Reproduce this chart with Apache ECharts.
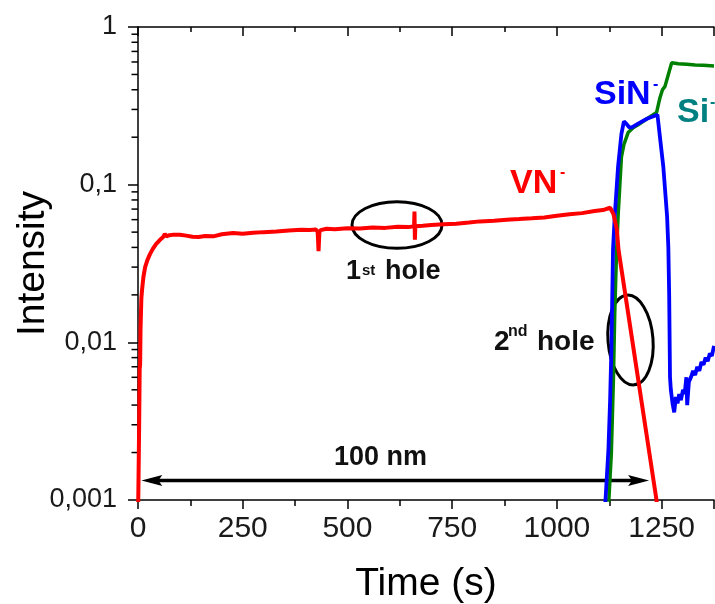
<!DOCTYPE html>
<html><head><meta charset="utf-8">
<script src="https://cdn.jsdelivr.net/npm/echarts@6/dist/echarts.min.js"></script>
<style>html,body{margin:0;padding:0;background:#fff}#c{width:715px;height:604px}</style>
</head><body><div id="c"></div>
<script>
// ---- data ----
const TIME_VN = [0,1,2,3,4,5,6,8,10,13,17,22,28,35,43,52,60,64,68,75,85,100,115,130,145,160,180,200,227,250,275,300,330,360,390,410,425,429,431,433,436,450,470,500,530,560,590,620,645,659,660,661,662,680,700,730,760,790,816,850,880,910,940,970,1000,1030,1060,1090,1110,1127,1135,1143,1147,1237,1242];
const VN = [0.0008,0.0012,0.002,0.0035,0.0068,0.0072,0.012,0.019,0.022,0.026,0.030,0.033,0.036,0.039,0.042,0.0445,0.0465,0.0487,0.047,0.0478,0.0482,0.0481,0.0475,0.0467,0.0466,0.0472,0.0470,0.0485,0.0493,0.0488,0.0495,0.0500,0.0505,0.0512,0.0518,0.0515,0.0520,0.0500,0.0378,0.0500,0.0515,0.0525,0.0522,0.0530,0.0528,0.0535,0.0532,0.0540,0.0538,0.0545,0.0676,0.0448,0.0545,0.0548,0.0555,0.0560,0.0565,0.0575,0.0585,0.0590,0.0600,0.0605,0.0612,0.0620,0.0635,0.0650,0.0660,0.0680,0.0690,0.0714,0.065,0.052,0.0387,0.00103,0.0008];

const TIME_SIN = [1112,1116,1123,1127,1130,1134,1138,1146,1154,1160,1166,1172,1178,1195,1215,1240,1246,1254,1263,1266,1268,1270,1272,1276,1280,1284,1288,1292,1296,1301,1305,1309,1311,1315,1320,1325,1330,1335,1340,1345,1350,1355,1360,1365,1370,1375];
const SIN = [0.0008,0.001,0.0021,0.0043,0.009,0.039,0.063,0.13,0.21,0.252,0.243,0.232,0.230,0.245,0.262,0.278,0.20,0.13,0.063,0.040,0.020,0.0060,0.0050,0.0041,0.0036,0.0045,0.0041,0.0047,0.0043,0.0050,0.0047,0.0060,0.0040,0.0056,0.0060,0.0066,0.0062,0.0070,0.0066,0.0075,0.0072,0.0080,0.0076,0.0085,0.0082,0.0095];

const TIME_SI = [1122,1124,1130,1135,1138,1142,1146,1154,1160,1170,1182,1194,1215,1238,1246,1252,1258,1266,1274,1290,1310,1330,1350,1375];
const SI = [0.0008,0.001,0.002,0.006,0.015,0.035,0.063,0.15,0.18,0.214,0.23,0.24,0.262,0.287,0.356,0.40,0.42,0.50,0.593,0.585,0.580,0.575,0.572,0.565];

const X_MIN = 0, X_MAX = 1375, X_STEP = 250;
const Y_MIN = 0.001, Y_MAX = 1;
const Y_MINOR = [2,3,4,5,6,7,8,9];
const ARROW = {t0: 8, t1: 1220, v: 0.00133};

const zip = (a, b) => a.map((t, i) => [t, b[i]]);
const FONT = '"Liberation Sans", Arial, sans-serif';

const chart = echarts.init(document.getElementById('c'), null, {renderer: 'canvas'});
const axisLine = {show: true, lineStyle: {color: '#000', width: 1.5}};
chart.setOption({
  animation: false,
  backgroundColor: '#fff',
  grid: {left: 138, right: 1, top: 27, bottom: 104, containLabel: false, outerBoundsMode: 'none'},
  xAxis: [{
    type: 'value', position: 'bottom', min: X_MIN, max: X_MAX, interval: X_STEP,
    axisLine, splitLine: {show: false},
    axisTick: {show: true, inside: false, length: 9, lineStyle: {color: '#000', width: 1.5}},
    minorTick: {show: true, splitNumber: 2, length: 6, lineStyle: {color: '#000', width: 1.5}},
    axisLabel: {fontSize: 30, color: '#1a1a1a', fontFamily: FONT, margin: 14, showMaxLabel: false,
      formatter: v => String(v)},
    name: 'Time (s)', nameLocation: 'middle', nameGap: 65, nameMoveOverlap: false,
    nameTextStyle: {fontSize: 39, color: '#000', fontFamily: FONT}
  }, {
    type: 'value', position: 'top', min: X_MIN, max: X_MAX, interval: X_STEP,
    axisLine, splitLine: {show: false},
    axisTick: {show: true, inside: true, length: 9, lineStyle: {color: '#000', width: 1.5}},
    minorTick: {show: true, splitNumber: 2, length: 5, lineStyle: {color: '#000', width: 1.5}},
    axisLabel: {show: false}
  }],
  yAxis: [{
    type: 'log', logBase: 10, min: Y_MIN, max: Y_MAX,
    axisLine, splitLine: {show: false},
    axisTick: {show: true, inside: false, length: 10, lineStyle: {color: '#000', width: 1.5}},
    axisLabel: {fontSize: 27, color: '#1a1a1a', fontFamily: FONT, margin: 21,
      formatter: v => String(Number(v.toPrecision(3))).replace('.', ',')},
    name: 'Intensity', nameLocation: 'middle', nameGap: 85, nameRotate: 90, nameMoveOverlap: false,
    nameTextStyle: {fontSize: 39, color: '#000', fontFamily: FONT}
  }],
  series: [
    {name: 'Si-', type: 'line', data: zip(TIME_SI, SI), showSymbol: false, clip: true,
     lineStyle: {color: '#008000', width: 3.5}, itemStyle: {color: '#008000'}},
    {name: 'SiN-', type: 'line', data: zip(TIME_SIN, SIN), showSymbol: false, clip: true,
     lineStyle: {color: '#0000ff', width: 3.8}, itemStyle: {color: '#0000ff'}},
    {name: 'VN-', type: 'line', data: zip(TIME_VN, VN), showSymbol: false, clip: true,
     lineStyle: {color: '#ff0000', width: 4}, itemStyle: {color: '#ff0000'}}
  ]
});

// ---- overlay: minor log ticks, arrow, annotations ----
const g = [];
const xAx = chart.convertToPixel({xAxisIndex: 0}, 0);
for (let d = -3; d < 0; d++) {
  Y_MINOR.forEach(m => {
    const y = chart.convertToPixel({yAxisIndex: 0}, m * Math.pow(10, d));
    g.push({type: 'line', shape: {x1: xAx - 6.5, y1: y, x2: xAx, y2: y}, style: {stroke: '#000', lineWidth: 1.5}, silent: true});
  });
}
const ax0 = chart.convertToPixel({xAxisIndex: 0}, ARROW.t0);
const ax1 = chart.convertToPixel({xAxisIndex: 0}, ARROW.t1);
const ay = chart.convertToPixel({yAxisIndex: 0}, ARROW.v);
g.push({type: 'line', shape: {x1: ax0 + 10, y1: ay, x2: ax1 - 10, y2: ay}, style: {stroke: '#000', lineWidth: 3.5}});
g.push({type: 'polygon', shape: {points: [[ax0, ay], [ax0 + 21, ay - 5.5], [ax0 + 17, ay], [ax0 + 21, ay + 5.5]]}, style: {fill: '#000'}});
g.push({type: 'polygon', shape: {points: [[ax1, ay], [ax1 - 21, ay - 5.5], [ax1 - 17, ay], [ax1 - 21, ay + 5.5]]}, style: {fill: '#000'}});

function txt(x, baseline, s, fs, color, bold) {
  g.push({type: 'text', x: x, y: baseline - 0.35 * fs, style: {text: s, fill: color, font: (bold ? 'bold ' : '') + fs + 'px ' + FONT, textAlign: 'left', textVerticalAlign: 'middle', verticalAlign: 'middle'}});
}
// ellipses
g.push({type: 'ellipse', x: 397, y: 225, shape: {cx: 0, cy: 0, rx: 45, ry: 23.3}, style: {fill: 'none', stroke: '#000', lineWidth: 3}});
g.push({type: 'ellipse', x: 630.5, y: 340, rotation: 0.08, shape: {cx: 0, cy: 0, rx: 22.5, ry: 45}, style: {fill: 'none', stroke: '#000', lineWidth: 3}});
// texts
txt(346, 281, '1', 27, '#111', true);
txt(362, 276, 'st', 15, '#111', true);
txt(385, 281, 'hole', 27, '#111', true);
txt(494, 352, '2', 28, '#111', true);
txt(508, 337, 'nd', 16, '#111', true);
txt(537, 352, 'hole', 28, '#111', true);
txt(334, 467, '100 nm', 27, '#111', true);
txt(510, 196, 'VN', 34, '#ff0000', true);
txt(560, 178, '-', 16, '#ff0000', true);
txt(594, 107, 'SiN', 34, '#0000ff', true);
txt(653, 90, '-', 16, '#0000ff', true);
txt(677, 125, 'Si', 34, '#008080', true);
txt(710, 108, '-', 16, '#008080', true);
chart.setOption({graphic: {elements: g}});
</script></body></html>
